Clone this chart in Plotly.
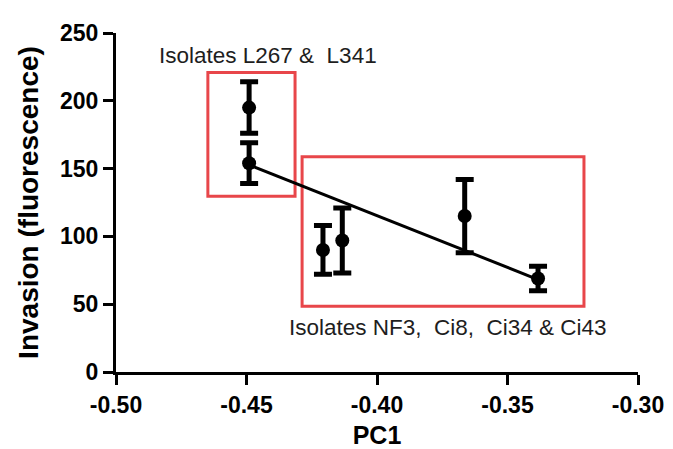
import numpy as np
import plotly.graph_objects as go

# Data
pc1 = [-0.449, -0.449, -0.4207, -0.4133, -0.3664, -0.3383]
invasion = [195, 154, 90, 97, 115, 69]
sem = [19, 15, 18, 24, 27, 9]

x_ticks = [-0.50, -0.45, -0.40, -0.35, -0.30]
x_tick_labels = ["-0.50", "-0.45", "-0.40", "-0.35", "-0.30"]
y_ticks = [0, 50, 100, 150, 200, 250]

# Highlight boxes (data coords): [x0, x1, y0, y1]
box_top = [-0.4648, -0.4314, 129.7, 220.8]
box_bottom = [-0.4287, -0.3207, 48.4, 158.8]

label_top = "Isolates L267 &\u00a0 L341"
label_bottom = "Isolates NF3,\u00a0 Ci8,\u00a0 Ci34 & Ci43"

FONT = "Liberation Sans, Arial, Helvetica, sans-serif"

# Linear regression line
slope, intercept = np.polyfit(pc1, invasion, 1)
fit_x = [min(pc1), max(pc1)]
fit_y = [slope * v + intercept for v in fit_x]

fig = go.Figure()
fig.add_trace(go.Scatter(
    x=fit_x, y=fit_y, mode="lines",
    line=dict(color="black", width=3), showlegend=False, hoverinfo="skip"))
fig.add_trace(go.Scatter(
    x=pc1, y=invasion, mode="markers",
    marker=dict(color="black", size=14),
    error_y=dict(type="data", array=sem, visible=True, color="black",
                 thickness=5, width=9),
    showlegend=False))

red = "#e8464a"
for b in (box_top, box_bottom):
    fig.add_shape(type="rect", x0=b[0], x1=b[1], y0=b[2], y1=b[3],
                  xref="x", yref="y", line=dict(color=red, width=3),
                  fillcolor="rgba(0,0,0,0)", layer="below")

fig.add_annotation(text=label_top, xref="paper", yref="paper",
                   x=(260 - 108) / 522, y=(372 - 46) / 349, showarrow=False,
                   font=dict(family=FONT, size=22.5, color="#1e1e1e"),
                   xanchor="center", yanchor="middle")
fig.add_annotation(text=label_bottom, xref="paper", yref="paper",
                   x=(440 - 108) / 522, y=(372 - 326) / 349, showarrow=False,
                   font=dict(family=FONT, size=22.5, color="#1e1e1e"),
                   xanchor="center", yanchor="middle")

fig.update_layout(
    width=673, height=449,
    margin=dict(l=108, r=43, t=23, b=77),
    plot_bgcolor="white", paper_bgcolor="white",
    font=dict(family=FONT, color="black"),
    xaxis=dict(
        range=[-0.5, -0.3], tickvals=x_ticks, ticktext=x_tick_labels,
        showgrid=False, zeroline=False, showline=True, linecolor="black",
        linewidth=3, ticks="outside", ticklen=10, tickwidth=3,
        tickcolor="black",
        tickfont=dict(family=FONT, size=23, color="black", weight="bold"),
        title=dict(text="<b>PC1</b>", font=dict(family=FONT, size=25),
                   standoff=10),
    ),
    yaxis=dict(
        range=[0, 250], tickvals=y_ticks,
        showgrid=False, zeroline=False, showline=True, linecolor="black",
        linewidth=3, ticks="outside", ticklen=10, tickwidth=3,
        tickcolor="black",
        tickfont=dict(family=FONT, size=23, color="black", weight="bold"),
        title=dict(text="<b>Invasion (fluorescence)</b>",
                   font=dict(family=FONT, size=28), standoff=14),
    ),
)

fig.write_html("out.html")
